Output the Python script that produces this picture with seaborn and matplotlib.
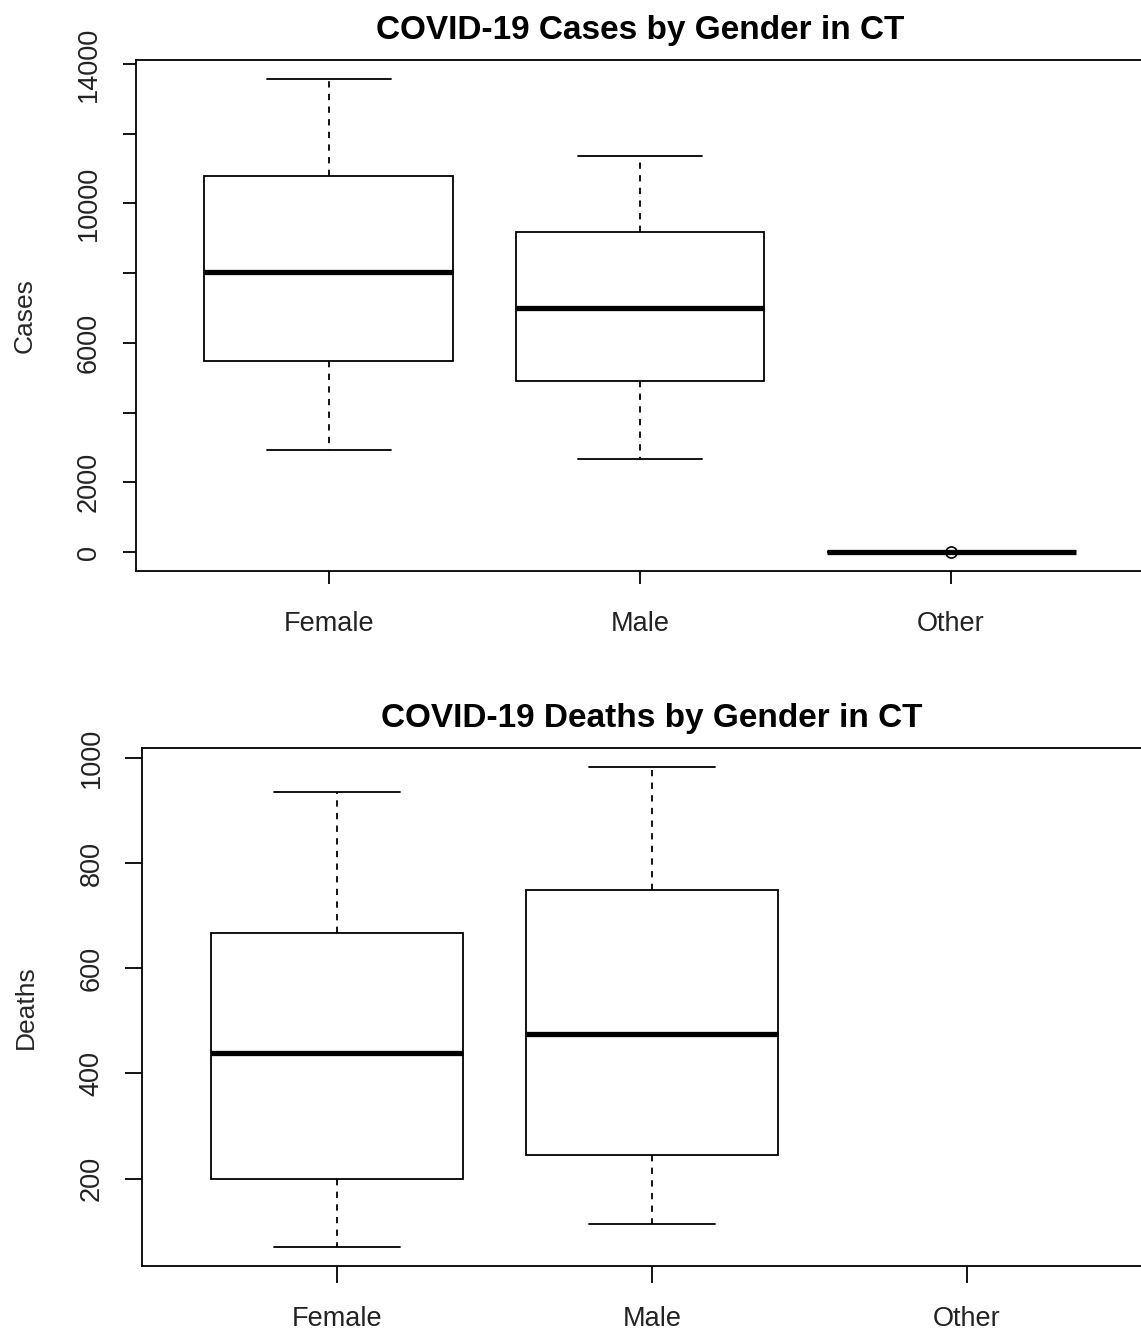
import matplotlib
matplotlib.use("Agg")
import matplotlib.pyplot as plt
import seaborn as sns
import pandas as pd
import numpy as np

# ---- data (five-number summaries) ----
genders = ["Female", "Male", "Other"]
cases_female = [2926, 5480, 8030, 10790, 13570]
cases_male = [2670, 4906, 7000, 9181, 11360]
cases_other = [0, 0, 0, 0, 0, 0, 12]
deaths_female = [70, 200, 438, 667, 935]
deaths_male = [114, 244, 476, 750, 983]
deaths_other = []

case_ticks = [0, 2000, 4000, 6000, 8000, 10000, 12000, 14000]
case_ticklabels = ["0", "2000", "", "6000", "", "10000", "", "14000"]
death_ticks = [200, 400, 600, 800, 1000]
death_ticklabels = ["200", "400", "600", "800", "1000"]


def long_df(parts):
    rows = []
    for g, vals in zip(genders, parts):
        for v in vals:
            rows.append((g, v))
    return pd.DataFrame(rows, columns=["Gender", "Value"])


cases_df = long_df([cases_female, cases_male, cases_other])
deaths_df = long_df([deaths_female, deaths_male, deaths_other])

sns.set_theme(style="white")
plt.rcParams["font.family"] = ["Liberation Sans", "DejaVu Sans"]
plt.rcParams["axes.linewidth"] = 1.3

W, H = 1141, 1336
fig = plt.figure(figsize=(W / 100, H / 100), dpi=100)
fig.patch.set_facecolor("white")

ax1 = fig.add_axes([136 / W, 1 - 571 / H, (1144 - 136) / W, (571 - 60) / H])
ax2 = fig.add_axes([142 / W, 1 - 1266 / H, (1162 - 142) / W, (1266 - 748) / H])

box_kws = dict(
    x="Gender", y="Value", order=genders, width=0.8, whis=1.5,
    color="white", saturation=1, linecolor="black", linewidth=1.3,
    fliersize=8,
    medianprops={"linewidth": 3.8, "color": "black", "solid_capstyle": "butt"},
    whiskerprops={"linestyle": (0, (3.5, 3.5)), "color": "black"},
    capprops={"color": "black"},
    flierprops={"marker": "o", "markerfacecolor": "none",
                "markeredgecolor": "black", "markeredgewidth": 1.2},
)

sns.boxplot(data=cases_df, ax=ax1, **box_kws)
sns.boxplot(data=deaths_df, ax=ax2, **box_kws)


def r_limits(vals):
    lo, hi = min(vals), max(vals)
    r = hi - lo
    return lo - 0.04 * r, hi + 0.04 * r


ax1.set_ylim(*r_limits(cases_female + cases_male + cases_other))
ax2.set_ylim(*r_limits(deaths_female + deaths_male + deaths_other))

for ax, title, ylabel, ticks, labels, tlen, xpad, lx in [
    (ax1, "COVID-19 Cases by Gender in CT", "Cases", case_ticks, case_ticklabels, 9.5, 19, -0.099),
    (ax2, "COVID-19 Deaths by Gender in CT", "Deaths", death_ticks, death_ticklabels, 12, 16.5, -0.102),
]:
    ax.set_xlim(-0.62, 2.62)
    ax.set_yticks(ticks)
    ax.set_yticklabels(labels, rotation=90, va="center")
    ax.set_xlabel("")
    ax.set_ylabel(ylabel, fontsize=19)
    ax.yaxis.set_label_coords(lx, 0.5)
    ax.set_title(title, fontsize=24, fontweight="bold", pad=15, color="black")
    ax.tick_params(axis="both", which="major", direction="out", length=tlen,
                   width=1.3, color="black", labelsize=19.5, labelcolor="#222222",
                   bottom=True, left=True)
    ax.tick_params(axis="y", pad=15)
    ax.tick_params(axis="x", pad=xpad)
    ax.grid(False)
    for s in ax.spines.values():
        s.set_visible(True)
        s.set_color("black")
        s.set_linewidth(1.3)
    ax.set_facecolor("white")

fig.savefig("out.png", dpi=100, facecolor="white")
